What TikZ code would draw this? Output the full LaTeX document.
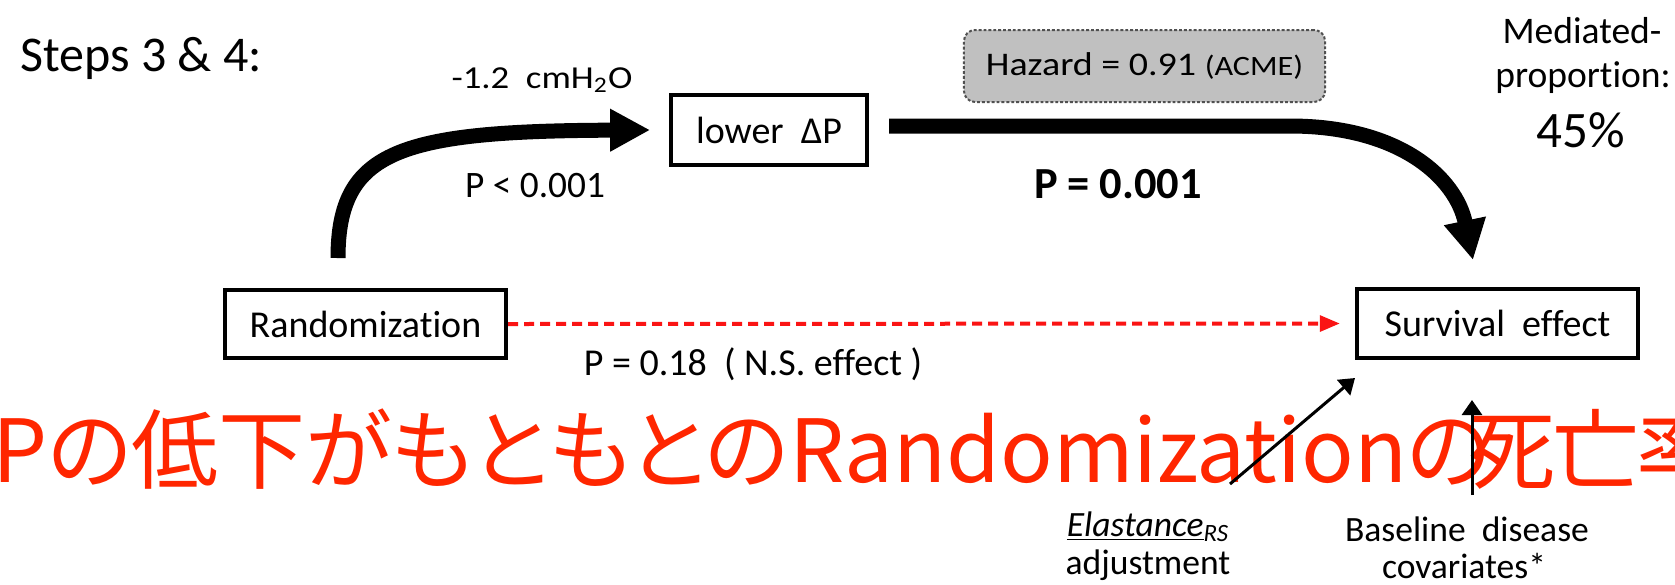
\documentclass[tikz,border=0pt]{standalone}
\usepackage{fontspec}
\setmainfont{Carlito}[Ligatures=NoCommon]
\newfontfamily\jpfont{Noto Sans CJK JP}[RawFeature=+palt]
\usepackage{graphicx}
\usetikzlibrary{arrows.meta}
\definecolor{jpred}{RGB}{255,38,0}
\definecolor{hazgray}{RGB}{192,192,192}
\definecolor{hazline}{RGB}{80,80,80}
\definecolor{dashred}{RGB}{250,20,20}
\begin{document}
\begin{tikzpicture}[x=0.45pt,y=-0.45pt,
  boxnode/.style={draw=black,line width=1.8pt,inner sep=0pt,font=\fontsize{17.1pt}{20pt}\selectfont},
  hazbox/.style={draw=hazline,line width=0.9pt,dash pattern=on 1.3pt off 0.9pt,fill=hazgray,rounded corners=5pt,inner sep=0pt,minimum width=162.5pt,minimum height=32.4pt},
  fatarrow/.style={line width=6.75pt,-{Triangle[length=18pt,width=18pt]}},
  thinarrow/.style={line width=1.35pt,-{Triangle[length=6.75pt,width=9pt]}},
  reddash/.style={draw=dashred,line width=1.8pt,dash pattern=on 4.5pt off 2.7pt,-{Triangle[length=9pt,width=7pt]}},
  lbl/.style={inner sep=0pt,anchor=base},
  jptext/.style={anchor=base west,inner sep=0pt,text=jpred,font=\jpfont\fontsize{39.2pt}{47pt}\selectfont},
  normal/.style={font=\fontsize{17.1pt}{20pt}\selectfont},
  small/.style={font=\fontsize{16pt}{19pt}\selectfont}]
\useasboundingbox (0,0) rectangle (1675,584);
\clip (0,0) rectangle (1675,584);
\fill[white] (0,0) rectangle (1675,584);

% red overlay text
\node[jptext] (jp) at (-8,482) {Pの低下がもともとのRandomizationの};
\node[jptext] (jp2) at (1468,482) {死\kern-1.5pt亡\kern-1.5pt率};

% boxes
\node[boxnode,minimum width=126.5pt,minimum height=30.6pt] (rand) at (365.5,324) {Randomization};
\node[boxnode,minimum width=126.5pt,minimum height=31pt] (surv) at (1497.5,323.5) {Survival\ \ effect};
\node[boxnode,minimum width=88.2pt,minimum height=31.5pt] (ld) at (769,130) {lower\ \ ΔP};
\node[hazbox] (haz) at (1144.5,66) {\fontsize{14.85pt}{18pt}\selectfont\scalebox{1.15}[1]{Hazard = 0.91 {\fontsize{12.6pt}{15pt}\selectfont (ACME)}}};

% labels
\node[lbl,anchor=base west,font=\fontsize{22.5pt}{27pt}\selectfont] (steps) at (20,71) {Steps 3 \& 4:};
\node[lbl,font=\fontsize{14.4pt}{17pt}\selectfont] (cm) at (542,88) {\scalebox{1.15}[1]{-1.2\ \ cmH\textsubscript{2}O}};
\node[lbl,font=\fontsize{16.8pt}{20pt}\selectfont] (p1) at (535,197) {P < 0.001};
\node[lbl,font=\bfseries\fontsize{20pt}{24pt}\selectfont] (p2) at (1118,198) {P = 0.001};
\node[lbl,font=\fontsize{16.9pt}{20pt}\selectfont] (med1) at (1582,43) {Mediated-};
\node[lbl,font=\fontsize{16.9pt}{20pt}\selectfont] (med2) at (1583,87) {proportion:};
\node[lbl,font=\fontsize{23pt}{27pt}\selectfont] (med3) at (1581,147) {45\%};
\node[lbl,normal] (p3) at (753,375) {P = 0.18\ \ ( N.S. effect )};
\node[lbl,small] (el1) at (1148,536) {\underline{\textit{Elastance}}\textsubscript{\textit{RS}}};
\node[lbl,small] (el2) at (1148,574) {adjustment};
\node[lbl,small] (bd1) at (1467,541) {Baseline\ \ disease};
\node[lbl,small] (bd2) at (1464,578) {covariates*};

% coordinates
\coordinate (a1s) at (338,258);
\coordinate (a2e) at (1473,260);
\coordinate (eltail) at (1230,484);
\coordinate (eltip) at (1355,378);
\coordinate (bdtail) at (1472,495);
\coordinate (bdtip) at (1472,400);

% connectors
\draw[fatarrow] (a1s) .. controls (338,150) and (400,131) .. ([xshift=-8.5pt]ld.west);
\draw[fatarrow] ([xshift=9pt,yshift=1.8pt]ld.east) -- (1290,126) .. controls (1400,126) and (1456,178) .. (a2e);
\draw[reddash] (rand.east) -- ([xshift=-6.75pt]surv.west);
\draw[thinarrow] (eltail) -- (eltip);
\draw[thinarrow] (bdtail) -- (bdtip);
\end{tikzpicture}
\end{document}
